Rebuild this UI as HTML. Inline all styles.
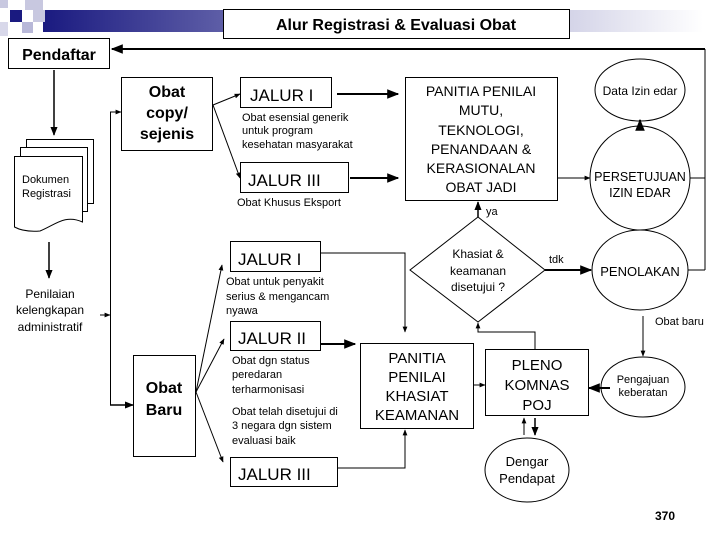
<!DOCTYPE html>
<html><head><meta charset="utf-8"><style>
body{margin:0;background:#fff}
svg{display:block}
text{font-family:"Liberation Sans",sans-serif;fill:#000}
</style></head><body>
<svg width="720" height="540" viewBox="0 0 720 540" xmlns="http://www.w3.org/2000/svg">
<defs>
<linearGradient id="g" x1="0" x2="1" y1="0" y2="0">
<stop offset="0" stop-color="#1a1a80"/><stop offset="0.45" stop-color="#8a8ac0"/><stop offset="1" stop-color="#fff"/>
</linearGradient>
<marker id="a" viewBox="0 0 10 10" refX="9" refY="5" markerWidth="6" markerHeight="6" orient="auto"><path d="M0,1 L10,5 L0,9 z" fill="#000"/></marker>
</defs>
<rect x="43" y="10" width="660" height="22" fill="url(#g)"/>
<rect x="0" y="0" width="8" height="8" fill="#c8c8e0"/>
<rect x="25" y="0" width="18" height="10" fill="#c8c8e0"/>
<rect x="33" y="10" width="12" height="12" fill="#c8c8e0"/>
<rect x="10" y="10" width="12" height="12" fill="#1a1a80"/>
<rect x="22" y="22" width="11" height="11" fill="#b8b8d8"/>
<rect x="0" y="22" width="8" height="14" fill="#d8d8ea"/>
<rect x="223.5" y="9.5" width="346" height="29" fill="#fff" stroke="#000"/>
<text x="396" y="30" font-size="16" font-weight="bold" text-anchor="middle">Alur Registrasi &amp; Evaluasi Obat</text>
<rect x="8.5" y="38.5" width="101" height="30" fill="#fff" stroke="#000"/>
<text x="59" y="60" font-size="16" font-weight="bold" text-anchor="middle">Pendaftar</text>
<g stroke="#000" fill="none" stroke-width="1">
<line x1="705" y1="49" x2="112" y2="49" stroke-width="2" marker-end="url(#a)"/>
<line x1="705" y1="49" x2="705" y2="270"/>
<line x1="690" y1="178" x2="705" y2="178"/>
<line x1="687" y1="270" x2="705" y2="270"/>
<line x1="54" y1="70" x2="54" y2="135" stroke-width="1.5" marker-end="url(#a)"/>
<rect x="26.5" y="139.5" width="67" height="64" fill="#fff"/>
<rect x="20.5" y="147.5" width="67" height="64" fill="#fff"/>
<path d="M14.5,156.5 H82.5 V222 C65,214 55,225 40,231 C28,232 20,230 14.5,227 Z" fill="#fff"/>
<line x1="49" y1="242" x2="49" y2="278" stroke-width="1.5" marker-end="url(#a)"/>
<line x1="100" y1="315" x2="110" y2="315" marker-end="url(#a)"/>
<line x1="110.5" y1="112" x2="110.5" y2="405"/>
<line x1="110" y1="112" x2="121" y2="112" marker-end="url(#a)"/>
<line x1="110" y1="405" x2="133" y2="405" stroke-width="1.5" marker-end="url(#a)"/>
<rect x="121.5" y="77.5" width="91" height="73" fill="#fff"/>
<rect x="240.5" y="77.5" width="91" height="30" fill="#fff"/>
<rect x="240.5" y="162.5" width="108" height="30" fill="#fff"/>
<rect x="405.5" y="77.5" width="152" height="123" fill="#fff"/>
<ellipse cx="640" cy="90" rx="45" ry="31" fill="#fff"/>
<ellipse cx="640" cy="178" rx="50" ry="52" fill="#fff"/>
<ellipse cx="640" cy="270" rx="48" ry="40" fill="#fff"/>
<ellipse cx="643" cy="387" rx="42" ry="30" fill="#fff"/>
<ellipse cx="527" cy="470" rx="42" ry="32" fill="#fff"/>
<path d="M478,217 L545,270 L478,322 L410,270 Z" fill="#fff"/>
<rect x="230.5" y="241.5" width="90" height="30" fill="#fff"/>
<rect x="230.5" y="321.5" width="90" height="29" fill="#fff"/>
<rect x="230.5" y="457.5" width="107" height="29" fill="#fff"/>
<rect x="133.5" y="355.5" width="62" height="101" fill="#fff"/>
<rect x="360.5" y="343.5" width="113" height="85" fill="#fff"/>
<rect x="485.5" y="349.5" width="103" height="66" fill="#fff"/>
<line x1="213" y1="105" x2="240" y2="94" marker-end="url(#a)"/>
<line x1="213" y1="105" x2="240" y2="178" marker-end="url(#a)"/>
<line x1="337" y1="94" x2="398" y2="94" stroke-width="2" marker-end="url(#a)"/>
<line x1="350" y1="178" x2="398" y2="178" stroke-width="2" marker-end="url(#a)"/>
<line x1="557" y1="178" x2="590" y2="178" marker-end="url(#a)"/>
<line x1="640" y1="126" x2="640" y2="120" stroke-width="2" marker-end="url(#a)"/>
<line x1="478" y1="217" x2="478" y2="202" stroke-width="1.5" marker-end="url(#a)"/>
<line x1="545" y1="270" x2="591" y2="270" stroke-width="2" marker-end="url(#a)"/>
<line x1="643" y1="316" x2="643" y2="356" marker-end="url(#a)"/>
<line x1="610" y1="388" x2="589" y2="388" stroke-width="2" marker-end="url(#a)"/>
<line x1="473" y1="385" x2="485" y2="385" marker-end="url(#a)"/>
<polyline points="535,349 535,332 478,332 478,323" marker-end="url(#a)"/>
<line x1="524" y1="435" x2="524" y2="418" marker-end="url(#a)"/>
<line x1="535" y1="418" x2="535" y2="435" stroke-width="1.5" marker-end="url(#a)"/>
<polyline points="320,253 405,253 405,332" marker-end="url(#a)"/>
<line x1="320" y1="344" x2="355" y2="344" stroke-width="2" marker-end="url(#a)"/>
<polyline points="337,468 405,468 405,430" marker-end="url(#a)"/>
<line x1="196" y1="392" x2="222" y2="265" marker-end="url(#a)"/>
<line x1="196" y1="392" x2="224" y2="339" marker-end="url(#a)"/>
<line x1="196" y1="392" x2="223" y2="462" marker-end="url(#a)"/>
</g>
<g font-size="16" font-weight="bold" text-anchor="middle">
<text x="167" y="97">Obat</text><text x="167" y="118">copy/</text><text x="167" y="139">sejenis</text>
<text x="164" y="393">Obat</text><text x="164" y="415">Baru</text>
</g>
<g font-size="11">
<text x="22" y="183">Dokumen</text><text x="22" y="197">Registrasi</text>
<text x="50" y="298" text-anchor="middle" font-size="12">Penilaian</text>
<text x="50" y="314" text-anchor="middle" font-size="12">kelengkapan</text>
<text x="50" y="331" text-anchor="middle" font-size="12">administratif</text>
<text x="242" y="121">Obat esensial generik</text><text x="242" y="134">untuk program</text><text x="242" y="148">kesehatan masyarakat</text>
<text x="237" y="206">Obat Khusus Eksport</text>
<text x="226" y="285">Obat untuk penyakit</text><text x="226" y="300">serius &amp; mengancam</text><text x="226" y="314">nyawa</text>
<text x="232" y="364">Obat dgn status</text><text x="232" y="378">peredaran</text><text x="232" y="393">terharmonisasi</text>
<text x="232" y="415">Obat telah disetujui di</text><text x="232" y="429">3 negara dgn sistem</text><text x="232" y="444">evaluasi baik</text>
<text x="486" y="215">ya</text>
<text x="549" y="263">tdk</text>
<text x="655" y="325">Obat baru</text>
<text x="643" y="383" text-anchor="middle">Pengajuan</text><text x="643" y="396" text-anchor="middle">keberatan</text>
</g>
<g font-size="17">
<text x="250" y="101">JALUR I</text>
<text x="248" y="186">JALUR III</text>
<text x="238" y="265">JALUR I</text>
<text x="238" y="344">JALUR II</text>
<text x="238" y="480">JALUR III</text>
</g>
<g font-size="14" text-anchor="middle">
<text x="481" y="96">PANITIA PENILAI</text><text x="481" y="115">MUTU,</text><text x="481" y="135">TEKNOLOGI,</text>
<text x="481" y="154">PENANDAAN &amp;</text><text x="481" y="173">KERASIONALAN</text><text x="481" y="192">OBAT JADI</text>
<text x="640" y="95" font-size="12">Data Izin edar</text>
<text x="640" y="181" font-size="12.5">PERSETUJUAN</text><text x="640" y="197" font-size="12.5">IZIN EDAR</text>
<text x="640" y="276" font-size="13">PENOLAKAN</text>
<text x="478" y="258" font-size="12">Khasiat &amp;</text><text x="478" y="275" font-size="12">keamanan</text><text x="478" y="291" font-size="12">disetujui ?</text>
<text x="417" y="363" font-size="15">PANITIA</text><text x="417" y="382" font-size="15">PENILAI</text><text x="417" y="401" font-size="15">KHASIAT</text><text x="417" y="420" font-size="15">KEAMANAN</text>
<text x="537" y="370" font-size="15">PLENO</text><text x="537" y="390" font-size="15">KOMNAS</text><text x="537" y="410" font-size="15">POJ</text>
<text x="527" y="466" font-size="13">Dengar</text><text x="527" y="483" font-size="13">Pendapat</text>
</g>
<text x="665" y="520" font-size="12" font-weight="bold" text-anchor="middle">370</text>
</svg>
</body></html>
